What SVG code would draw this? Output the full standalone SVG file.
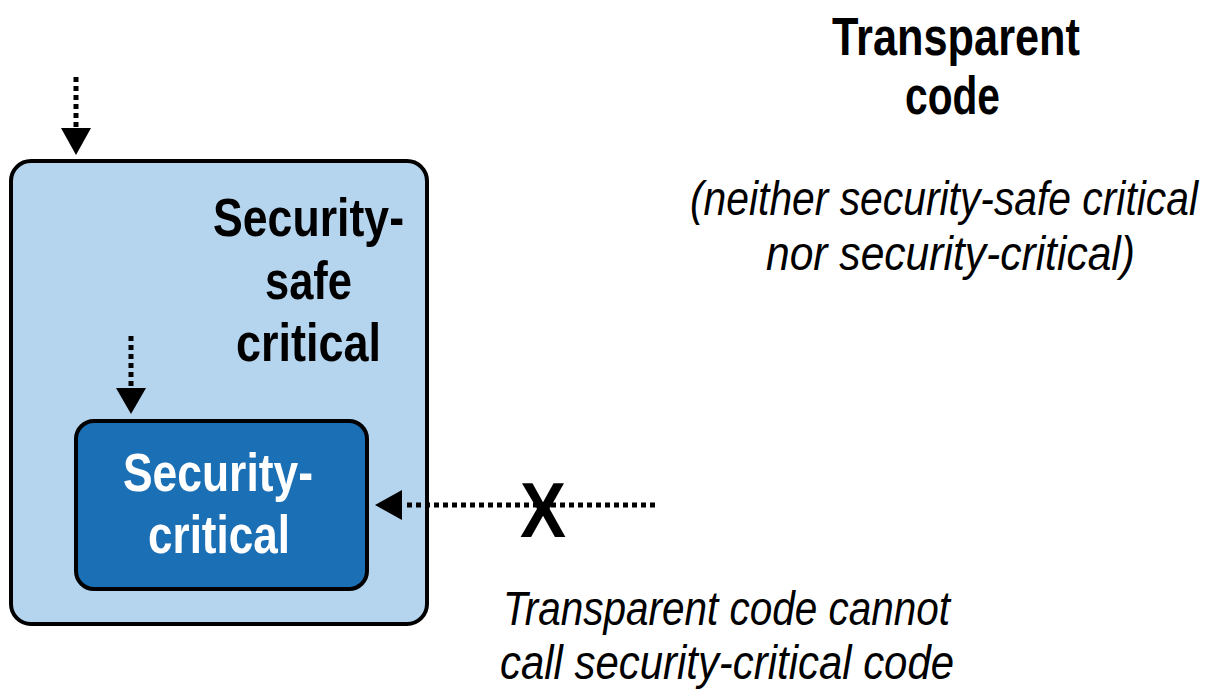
<svg xmlns="http://www.w3.org/2000/svg" width="1223" height="698" viewBox="0 0 1223 698">
  <style>
    .t { font-family: "Liberation Sans Narrow", "Liberation Sans", Arial, sans-serif; }
    .b { font-weight: bold; }
    .i { font-style: italic; }
    .dots { stroke: #000; stroke-width: 5; stroke-dasharray: 5 4; fill: none; }
    .head { fill: #000; }
  </style>
  <rect width="1223" height="698" fill="#ffffff"/>
  <g id="safe-critical">
    <rect x="11" y="161" width="416" height="463" rx="20" ry="20" fill="#b5d4ee" stroke="#000" stroke-width="4"/>
    <text class="t b" font-size="53" x="213" y="236" textLength="191" lengthAdjust="spacingAndGlyphs">Security-</text>
    <text class="t b" font-size="53" x="265" y="299" textLength="87" lengthAdjust="spacingAndGlyphs">safe</text>
    <text class="t b" font-size="53" x="236" y="361" textLength="145" lengthAdjust="spacingAndGlyphs">critical</text>
  </g>
  <g id="security-critical">
    <rect x="76" y="421" width="291" height="168" rx="18" ry="18" fill="#1b6fb4" stroke="#000" stroke-width="4"/>
    <text class="t b" font-size="53" fill="#ffffff" x="123" y="491" textLength="190" lengthAdjust="spacingAndGlyphs">Security-</text>
    <text class="t b" font-size="53" fill="#ffffff" x="148" y="553" textLength="142" lengthAdjust="spacingAndGlyphs">critical</text>
  </g>
  <g id="transparent-code">
    <text class="t b" font-size="53" x="832" y="55" textLength="248" lengthAdjust="spacingAndGlyphs">Transparent</text>
    <text class="t b" font-size="53" x="905" y="114" textLength="95" lengthAdjust="spacingAndGlyphs">code</text>
    <text class="t i" font-size="36" transform="translate(690,215) scale(1,1.36)" x="0" y="0" textLength="508" lengthAdjust="spacingAndGlyphs">(neither security-safe critical</text>
    <text class="t i" font-size="49" x="766" y="270" textLength="369" lengthAdjust="spacingAndGlyphs">nor security-critical)</text>
  </g>
  <g id="note">
    <text class="t i" font-size="49" x="503" y="625" textLength="447" lengthAdjust="spacingAndGlyphs">Transparent code cannot</text>
    <text class="t i" font-size="49" x="500" y="679" textLength="454" lengthAdjust="spacingAndGlyphs">call security-critical code</text>
  </g>
  <g id="connectors">
    <line class="dots" x1="76" y1="77" x2="76" y2="127"/>
    <polygon class="head" points="61,128 91,128 76,155"/>
    <line class="dots" x1="131" y1="336" x2="131" y2="386"/>
    <polygon class="head" points="116,388 146,388 131,414"/>
    <line class="dots" x1="655" y1="505" x2="404" y2="505"/>
    <polygon class="head" points="402,490 402,520 375,505"/>
    <text class="t b" font-size="78" x="520" y="537" textLength="46" lengthAdjust="spacingAndGlyphs">X</text>
  </g>
</svg>
